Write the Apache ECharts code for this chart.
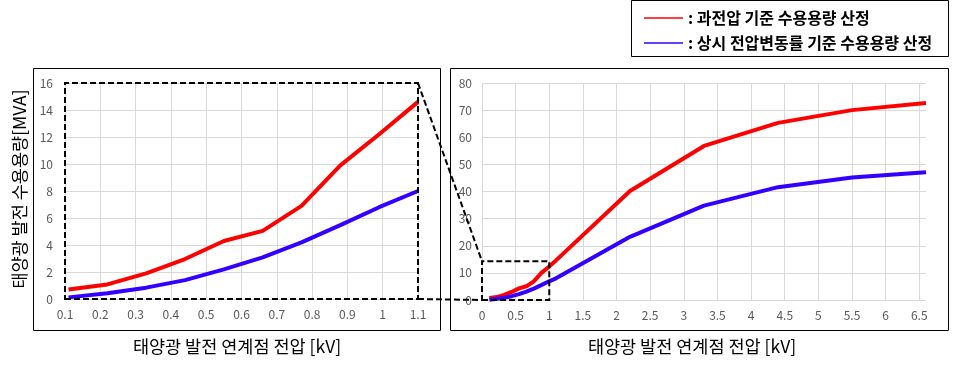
<!DOCTYPE html>
<html>
<head>
<meta charset="utf-8">
<script src="https://cdn.jsdelivr.net/npm/echarts@6/dist/echarts.min.js"></script>
<style>
html,body{margin:0;padding:0;background:#fff;}
#c{width:965px;height:365px;}
</style>
</head>
<body>
<div id="c"></div>
<script>
// ---- data ----
const voltSmall = [0.11, 0.22, 0.33, 0.44, 0.55, 0.66, 0.77, 0.88, 0.99, 1.1];
const voltLarge = [2.2, 3.3, 4.4, 5.5, 6.6];
const overVoltSmall = [0.7, 1.08, 1.9, 2.96, 4.3, 5.05, 6.9, 9.9, 12.2, 14.6];
const overVoltLarge = [40.2, 56.8, 65.3, 70.0, 72.6];
const fluctSmall = [0.12, 0.42, 0.84, 1.4, 2.19, 3.08, 4.2, 5.47, 6.8, 8.0];
const fluctLarge = [23.3, 34.8, 41.6, 45.2, 47.1];
const seriesNames = ['과전압 기준 수용용량 산정', '상시 전압변동률 기준 수용용량 산정'];
const yTitle = '태양광 발전 수용용량[MVA]';
const xTitle = '태양광 발전 연계점 전압 [kV]';
// zoom boxes (data coords)
const leftBox = {x: [0.1, 1.1], y: [0, 16]};
const rightBox = {x: [0, 1], y: [0, 14.3]};

const pairs = (xs, ys) => xs.map((x, i) => [x, ys[i]]);
const redSmall = pairs(voltSmall, overVoltSmall);
const blueSmall = pairs(voltSmall, fluctSmall);
const redAll = redSmall.concat(pairs(voltLarge, overVoltLarge));
const blueAll = blueSmall.concat(pairs(voltLarge, fluctLarge));

const FONT = '"Noto Sans CJK KR", "Noto Sans", sans-serif';
const RED = '#ff0000', BLUE = '#3300ff';
const labelStyle = {color: '#595959', fontSize: 12, fontFamily: FONT};
const split = {show: true, lineStyle: {color: '#d9d9d9', width: 1}};
const titleStyle = {fontSize: 17.5, color: '#000', fontFamily: FONT};

const chart = echarts.init(document.getElementById('c'), null, {renderer: 'canvas'});
const option = {
  animation: false,
  backgroundColor: '#fff',
  textStyle: {fontFamily: FONT},
  legend: {
    orient: 'vertical', left: 639, top: 2, itemGap: 3,
    itemWidth: 39, itemHeight: 1.5, icon: 'rect',
    data: seriesNames,
    formatter: n => ': ' + n,
    textStyle: {fontSize: 16, fontWeight: 'bold', color: '#000', fontFamily: FONT, lineHeight: 22},
    selectedMode: false
  },
  grid: [
    {left: 65, right: 547, top: 83, bottom: 66},
    {left: 482, right: 39, top: 83, bottom: 65}
  ],
  xAxis: [
    {gridIndex: 0, type: 'value', min: 0.1, max: 1.1, interval: 0.1,
     axisLine: {show: false}, axisTick: {show: false},
     axisLabel: Object.assign({margin: 9}, labelStyle),
     splitLine: split,
     name: xTitle, nameLocation: 'middle', nameGap: 39,
     nameTextStyle: Object.assign({padding: [0, 9, 0, 0]}, titleStyle)},
    {gridIndex: 1, type: 'value', min: 0, max: 6.6, interval: 0.5,
     axisLine: {show: false}, axisTick: {show: false},
     axisLabel: Object.assign({margin: 9, showMaxLabel: false}, labelStyle),
     splitLine: Object.assign({showMaxLine: false}, split),
     name: xTitle, nameLocation: 'middle', nameGap: 38,
     nameTextStyle: Object.assign({padding: [0, 24, 0, 0]}, titleStyle)}
  ],
  yAxis: [
    {gridIndex: 0, type: 'value', min: 0, max: 16, interval: 2,
     axisLine: {show: false}, axisTick: {show: false},
     axisLabel: Object.assign({margin: 12}, labelStyle),
     splitLine: split,
     name: yTitle, nameLocation: 'middle', nameGap: 37, nameRotate: 90,
     nameTextStyle: Object.assign({padding: [0, 0, 0, 4]}, titleStyle)},
    {gridIndex: 1, type: 'value', min: 0, max: 80, interval: 10,
     axisLine: {show: false}, axisTick: {show: false},
     axisLabel: Object.assign({margin: 10}, labelStyle),
     splitLine: split}
  ],
  series: [
    {name: seriesNames[0], type: 'line', xAxisIndex: 0, yAxisIndex: 0, data: redSmall,
     showSymbol: false, symbol: 'none', lineStyle: {color: RED, width: 4}, itemStyle: {color: RED}},
    {name: seriesNames[1], type: 'line', xAxisIndex: 0, yAxisIndex: 0, data: blueSmall,
     showSymbol: false, symbol: 'none', lineStyle: {color: BLUE, width: 4}, itemStyle: {color: BLUE}},
    {name: seriesNames[0], type: 'line', xAxisIndex: 1, yAxisIndex: 1, data: redAll,
     showSymbol: false, symbol: 'none', lineStyle: {color: RED, width: 4}, itemStyle: {color: RED}},
    {name: seriesNames[1], type: 'line', xAxisIndex: 1, yAxisIndex: 1, data: blueAll,
     showSymbol: false, symbol: 'none', lineStyle: {color: BLUE, width: 4}, itemStyle: {color: BLUE}}
  ]
};
chart.setOption(option);

// ---- annotations computed through the axes ----
const p0 = (x, y) => chart.convertToPixel({gridIndex: 0}, [x, y]);
const p1 = (x, y) => chart.convertToPixel({gridIndex: 1}, [x, y]);
const dash = {stroke: '#000', lineWidth: 2, lineDash: [6, 3], fill: null};
function boxPoly(pf, b) {
  const a = pf(b.x[0], b.y[0]), c = pf(b.x[1], b.y[1]);
  return {type: 'polygon', z: 100, shape: {points: [[a[0], a[1]], [c[0], a[1]], [c[0], c[1]], [a[0], c[1]]]}, style: dash};
}
const lt = p0(leftBox.x[1], leftBox.y[1]), lb = p0(leftBox.x[1], leftBox.y[0]);
const rt = p1(rightBox.x[0], rightBox.y[1]), rb = p1(rightBox.x[0], rightBox.y[0]);
const frame = {stroke: '#000', lineWidth: 1, fill: null};
chart.setOption({
  graphic: [
    {type: 'rect', z: 90, shape: {x: 33.5, y: 68.5, width: 407, height: 262}, style: frame},
    {type: 'rect', z: 90, shape: {x: 450.5, y: 68.5, width: 498, height: 262}, style: frame},
    {type: 'rect', z: 90, shape: {x: 631.5, y: 0.5, width: 317, height: 56}, style: frame},
    boxPoly(p0, leftBox),
    boxPoly(p1, rightBox),
    {type: 'polyline', z: 100, shape: {points: [lt, rt]}, style: dash},
    {type: 'polyline', z: 100, shape: {points: [lb, rb]}, style: dash}
  ]
});
</script>
</body>
</html>
